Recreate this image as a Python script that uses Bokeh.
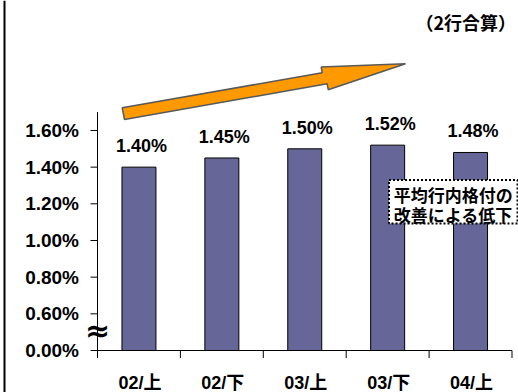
from bokeh.plotting import figure
from bokeh.models import Range1d
from bokeh.core.properties import value
from bokeh.embed import file_html
from bokeh.resources import INLINE

# ---- data ----
categories = ["02/上", "02/下", "03/上", "03/下", "04/上"]
rates = [1.40, 1.45, 1.50, 1.52, 1.48]
tick_values = [0.00, 0.60, 0.80, 1.00, 1.20, 1.40, 1.60]
tick_labels = ["0.00%", "0.60%", "0.80%", "1.00%", "1.20%", "1.40%", "1.60%"]
note_top = "（2行合算）"
note_box = ["平均行内格付の", "改善による低下"]

# ---- broken axis scale: 0 -> 0, 0.60% -> 1, then 0.20% per unit ----
def pos(v):
    return v / 0.6 if v < 0.6 else 1 + (v - 0.6) / 0.2

# layout helpers (pixel -> data) for decorations
PXW, X0 = 82.9, 97.0
PYH, Y0 = 36.67, 350.0
def dx(px):
    return (px - X0) / PXW
def dy(py):
    return (Y0 - py) / PYH

W, H = 518, 392
p = figure(width=W, height=H, output_backend="svg", toolbar_location=None,
           x_range=Range1d(dx(0), dx(W)), y_range=Range1d(dy(H), dy(0)),
           x_axis_type=None, y_axis_type=None, title=None, min_border=0)
p.outline_line_color = None
p.background_fill_color = "white"
p.border_fill_color = "white"

NUM = value("'Liberation Sans', 'Noto Sans CJK JP', sans-serif")
CJK = value("'Noto Sans CJK JP', 'Liberation Sans', sans-serif")
MIX = value("'Liberation Sans', 'Noto Sans CJK JP', sans-serif")

n = len(categories)
centers = [i + 0.5 for i in range(n)]
tops = [pos(v) for v in rates]

# left frame border
p.segment(x0=[dx(4)], y0=[dy(0)], x1=[dx(4)], y1=[dy(H)], line_color="black", line_width=2)

# bars
p.vbar(x=centers, width=0.41, bottom=0, top=tops, fill_color="#666699",
       line_color="black", line_width=1)

# y axis
y_top = 6.5
p.segment(x0=[0], y0=[0], x1=[0], y1=[y_top], line_color="black", line_width=1)
tpos = [pos(v) for v in tick_values]
p.segment(x0=[dx(90)] * len(tpos), y0=tpos, x1=[0] * len(tpos), y1=tpos,
          line_color="black", line_width=1)
p.text(x=[dx(78.5)] * len(tpos), y=tpos, text=tick_labels, text_align="right",
       text_baseline="middle", text_font=NUM, text_font_size="19px",
       text_font_style="bold", text_color="black")

# axis break mark
p.text(x=[0], y=[pos(0.33)], text=["≈"], text_align="center", text_baseline="middle",
       text_font=value("DejaVu Sans"), text_font_size="30px", text_font_style="bold",
       text_color="black")

# x axis
p.segment(x0=[0], y0=[0], x1=[n], y1=[0], line_color="black", line_width=1)
bounds = list(range(n + 1))
p.segment(x0=bounds, y0=[0] * len(bounds), x1=bounds, y1=[dy(357.5)] * len(bounds),
          line_color="black", line_width=1)
p.text(x=centers, y=[dy(382)] * n, text=categories, text_align="center",
       text_baseline="middle", text_font=MIX, text_font_size="18px",
       text_font_style="bold", text_color="black", x_offset=1)

# value labels
p.text(x=centers, y=tops, text=[f"{v:.2f}%" for v in rates], text_align="center",
       text_baseline="alphabetic", text_font=NUM, text_font_size="18px",
       text_font_style="bold", text_color="black", x_offset=2.5, y_offset=-21)

# orange trend arrow
ax = [121.7, 321.7, 320.7, 405.0, 327.7, 326.7, 124.0]
ay = [107.3, 72.3, 66.5, 63.3, 89.2, 83.3, 119.0]
p.patch(x=[dx(v) for v in ax], y=[dy(v) for v in ay], fill_color="#FF9900",
        line_color="#595959", line_width=1.5)

# top-right note
p.text(x=[dx(415)], y=[dy(21)], text=[note_top], text_align="left",
       text_baseline="middle", text_font=CJK, text_font_size="18px",
       text_font_style="bold", text_color="black")

# dotted annotation box
p.quad(left=[dx(388.5)], right=[dx(517)], top=[dy(179.5)], bottom=[dy(223)],
       fill_color="white", line_color="black", line_width=2, line_dash="2 2")
p.text(x=[dx(452.7)] * 2, y=[dy(194), dy(214)], text=note_box, text_align="center",
       text_baseline="middle", text_font=CJK, text_font_size="17px",
       text_font_style="bold", text_color="black")

open("out.html", "w").write(file_html(p, INLINE))
